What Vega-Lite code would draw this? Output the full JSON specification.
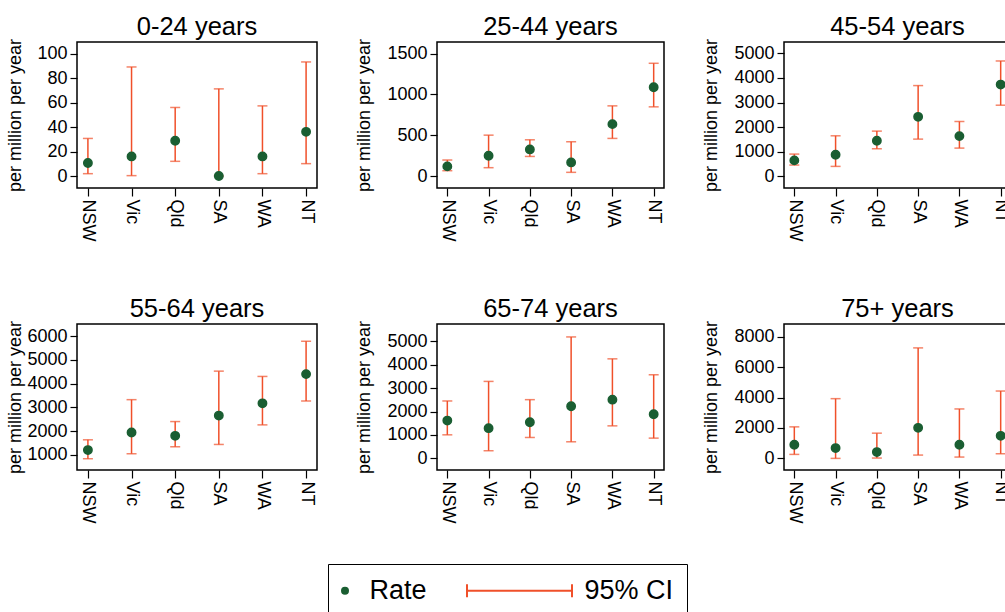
{
  "$schema": "https://vega.github.io/schema/vega-lite/v6.json",
  "padding": {"left": 5, "top": 14, "right": 0, "bottom": 0},
  "background": "white",
  "config": {
    "font": "Liberation Sans",
    "view": {"stroke": "#000", "strokeWidth": 1.5},
    "title": {"fontSize": 25.5, "fontWeight": "normal", "color": "#000", "baseline": "alphabetic", "offset": -2, "anchor": "middle"},
    "axis": {"labelFontSize": 18, "labelColor": "#000", "titleFontSize": 18, "titleFontWeight": "normal", "titleColor": "#000", "tickColor": "#000", "tickWidth": 1.2, "domain": false, "grid": false, "labelPadding": 3, "labelOverlap": false},
    "axisX": {"tickSize": 8, "labelAngle": 90},
    "axisY": {"tickSize": 7, "titlePadding": 3, "tickCount": 12},
    "legend": {"title": null, "orient": "none", "legendX": 251, "legendY": 522, "direction": "horizontal", "symbolSize": 36, "symbolOffset": -9.5, "symbolStrokeWidth": 2, "labelFontSize": 27, "labelColor": "#000", "labelOffset": 11, "columnPadding": 36, "padding": 13, "strokeColor": "#000"}
  },
  "datasets": {
    "rates": [
      {"age": "0-24 years", "state": "NSW", "rate": 10.6, "lower": 1.9, "upper": 30.7},
      {"age": "0-24 years", "state": "Vic", "rate": 16.0, "lower": 0.3, "upper": 89.1},
      {"age": "0-24 years", "state": "Qld", "rate": 28.8, "lower": 12.0, "upper": 56.0},
      {"age": "0-24 years", "state": "SA", "rate": 0, "lower": 0, "upper": 71.2},
      {"age": "0-24 years", "state": "WA", "rate": 16.0, "lower": 1.9, "upper": 57.3},
      {"age": "0-24 years", "state": "NT", "rate": 36.1, "lower": 10.1, "upper": 93.2},
      {"age": "25-44 years", "state": "NSW", "rate": 118, "lower": 65, "upper": 196},
      {"age": "25-44 years", "state": "Vic", "rate": 249, "lower": 102, "upper": 501},
      {"age": "25-44 years", "state": "Qld", "rate": 326, "lower": 240, "upper": 444},
      {"age": "25-44 years", "state": "SA", "rate": 167, "lower": 45, "upper": 420},
      {"age": "25-44 years", "state": "WA", "rate": 636, "lower": 461, "upper": 860},
      {"age": "25-44 years", "state": "NT", "rate": 1088, "lower": 848, "upper": 1382},
      {"age": "45-54 years", "state": "NSW", "rate": 649, "lower": 459, "upper": 905},
      {"age": "45-54 years", "state": "Vic", "rate": 878, "lower": 405, "upper": 1648},
      {"age": "45-54 years", "state": "Qld", "rate": 1446, "lower": 1121, "upper": 1838},
      {"age": "45-54 years", "state": "SA", "rate": 2418, "lower": 1513, "upper": 3688},
      {"age": "45-54 years", "state": "WA", "rate": 1635, "lower": 1148, "upper": 2229},
      {"age": "45-54 years", "state": "NT", "rate": 3729, "lower": 2891, "upper": 4688},
      {"age": "55-64 years", "state": "NSW", "rate": 1196, "lower": 832, "upper": 1630},
      {"age": "55-64 years", "state": "Vic", "rate": 1938, "lower": 1042, "upper": 3324},
      {"age": "55-64 years", "state": "Qld", "rate": 1798, "lower": 1336, "upper": 2400},
      {"age": "55-64 years", "state": "SA", "rate": 2652, "lower": 1434, "upper": 4528},
      {"age": "55-64 years", "state": "WA", "rate": 3170, "lower": 2260, "upper": 4304},
      {"age": "55-64 years", "state": "NT", "rate": 4402, "lower": 3268, "upper": 5788},
      {"age": "65-74 years", "state": "NSW", "rate": 1614, "lower": 1005, "upper": 2450},
      {"age": "65-74 years", "state": "Vic", "rate": 1289, "lower": 326, "upper": 3285},
      {"age": "65-74 years", "state": "Qld", "rate": 1543, "lower": 892, "upper": 2506},
      {"age": "65-74 years", "state": "SA", "rate": 2223, "lower": 708, "upper": 5183},
      {"age": "65-74 years", "state": "WA", "rate": 2506, "lower": 1388, "upper": 4248},
      {"age": "65-74 years", "state": "NT", "rate": 1883, "lower": 864, "upper": 3568},
      {"age": "75+ years", "state": "NSW", "rate": 894, "lower": 262, "upper": 2071},
      {"age": "75+ years", "state": "Vic", "rate": 676, "lower": 0, "upper": 3924},
      {"age": "75+ years", "state": "Qld", "rate": 414, "lower": 22, "upper": 1657},
      {"age": "75+ years", "state": "SA", "rate": 2006, "lower": 218, "upper": 7259},
      {"age": "75+ years", "state": "WA", "rate": 894, "lower": 87, "upper": 3248},
      {"age": "75+ years", "state": "NT", "rate": 1482, "lower": 305, "upper": 4425}
    ]
  },
  "data": {"name": "rates"},
  "columns": 3,
  "spacing": {"column": 36, "row": 54},
  "concat": [
    {
      "title": "0-24 years", "width": 240, "height": 146,
      "transform": [{"filter": "datum.age === '0-24 years'"}],
      "encoding": {"x": {"field": "state", "type": "nominal", "title": null, "sort": ["NSW", "Vic", "Qld", "SA", "WA", "NT"], "scale": {"type": "point", "padding": 0.25}}},
      "layer": [
        {"mark": {"type": "rule", "color": "#f0502a", "strokeWidth": 1.5},
         "encoding": {"y": {"field": "lower", "type": "quantitative", "title": "per million per year", "scale": {"domain": [-9.8, 109.5], "nice": false, "zero": false}, "axis": {"values": [0, 20, 40, 60, 80, 100], "format": "d", "minExtent": 50, "maxExtent": 50}}, "y2": {"field": "upper"}}},
        {"mark": {"type": "tick", "color": "#f0502a", "thickness": 1.5, "size": 10, "orient": "horizontal"}, "encoding": {"y": {"field": "lower", "type": "quantitative"}}},
        {"mark": {"type": "tick", "color": "#f0502a", "thickness": 1.5, "size": 10, "orient": "horizontal"}, "encoding": {"y": {"field": "upper", "type": "quantitative"}}},
        {"mark": {"type": "point", "filled": false, "fill": "#1a5e32", "fillOpacity": 1, "strokeWidth": 1.5, "size": 70, "opacity": 1},
         "encoding": {"y": {"field": "rate", "type": "quantitative"},
           "color": {"datum": "Rate", "type": "nominal", "scale": {"domain": ["Rate", "95% CI"], "range": ["#1a5e32", "#f0502a"]}},
           "shape": {"datum": "Rate", "type": "nominal", "scale": {"domain": ["Rate", "95% CI"], "range": ["circle", "M-31,-2.2L-31,2.2M-31,0L4,0M4,-2.2L4,2.2"]}}}}
      ]
    },
    {
      "title": "25-44 years", "width": 227, "height": 146,
      "transform": [{"filter": "datum.age === '25-44 years'"}],
      "encoding": {"x": {"field": "state", "type": "nominal", "title": null, "sort": ["NSW", "Vic", "Qld", "SA", "WA", "NT"], "scale": {"type": "point", "padding": 0.25}}},
      "layer": [
        {"mark": {"type": "rule", "color": "#f0502a", "strokeWidth": 1.5},
         "encoding": {"y": {"field": "lower", "type": "quantitative", "title": "per million per year", "scale": {"domain": [-147, 1643], "nice": false, "zero": false}, "axis": {"values": [0, 500, 1000, 1500], "format": "d", "minExtent": 61, "maxExtent": 61}}, "y2": {"field": "upper"}}},
        {"mark": {"type": "tick", "color": "#f0502a", "thickness": 1.5, "size": 10, "orient": "horizontal"}, "encoding": {"y": {"field": "lower", "type": "quantitative"}}},
        {"mark": {"type": "tick", "color": "#f0502a", "thickness": 1.5, "size": 10, "orient": "horizontal"}, "encoding": {"y": {"field": "upper", "type": "quantitative"}}},
        {"mark": {"type": "point", "filled": false, "fill": "#1a5e32", "fillOpacity": 1, "strokeWidth": 1.5, "size": 70, "opacity": 1},
         "encoding": {"y": {"field": "rate", "type": "quantitative"},
           "color": {"datum": "Rate", "type": "nominal", "scale": {"domain": ["Rate", "95% CI"], "range": ["#1a5e32", "#f0502a"]}},
           "shape": {"datum": "Rate", "type": "nominal", "scale": {"domain": ["Rate", "95% CI"], "range": ["circle", "M-31,-2.2L-31,2.2M-31,0L4,0M4,-2.2L4,2.2"]}}}}
      ]
    },
    {
      "title": "45-54 years", "width": 227, "height": 146,
      "transform": [{"filter": "datum.age === '45-54 years'"}],
      "encoding": {"x": {"field": "state", "type": "nominal", "title": null, "sort": ["NSW", "Vic", "Qld", "SA", "WA", "NT"], "scale": {"type": "point", "padding": 0.25}}},
      "layer": [
        {"mark": {"type": "rule", "color": "#f0502a", "strokeWidth": 1.5},
         "encoding": {"y": {"field": "lower", "type": "quantitative", "title": "per million per year", "scale": {"domain": [-473, 5459], "nice": false, "zero": false}, "axis": {"values": [0, 1000, 2000, 3000, 4000, 5000], "format": "d", "minExtent": 61, "maxExtent": 61}}, "y2": {"field": "upper"}}},
        {"mark": {"type": "tick", "color": "#f0502a", "thickness": 1.5, "size": 10, "orient": "horizontal"}, "encoding": {"y": {"field": "lower", "type": "quantitative"}}},
        {"mark": {"type": "tick", "color": "#f0502a", "thickness": 1.5, "size": 10, "orient": "horizontal"}, "encoding": {"y": {"field": "upper", "type": "quantitative"}}},
        {"mark": {"type": "point", "filled": false, "fill": "#1a5e32", "fillOpacity": 1, "strokeWidth": 1.5, "size": 70, "opacity": 1},
         "encoding": {"y": {"field": "rate", "type": "quantitative"},
           "color": {"datum": "Rate", "type": "nominal", "scale": {"domain": ["Rate", "95% CI"], "range": ["#1a5e32", "#f0502a"]}},
           "shape": {"datum": "Rate", "type": "nominal", "scale": {"domain": ["Rate", "95% CI"], "range": ["circle", "M-31,-2.2L-31,2.2M-31,0L4,0M4,-2.2L4,2.2"]}}}}
      ]
    },
    {
      "title": "55-64 years", "width": 240, "height": 146,
      "transform": [{"filter": "datum.age === '55-64 years'"}],
      "encoding": {"x": {"field": "state", "type": "nominal", "title": null, "sort": ["NSW", "Vic", "Qld", "SA", "WA", "NT"], "scale": {"type": "point", "padding": 0.25}}},
      "layer": [
        {"mark": {"type": "rule", "color": "#f0502a", "strokeWidth": 1.5},
         "encoding": {"y": {"field": "lower", "type": "quantitative", "title": "per million per year", "scale": {"domain": [356, 6517], "nice": false, "zero": false}, "axis": {"values": [1000, 2000, 3000, 4000, 5000, 6000], "format": "d", "minExtent": 50, "maxExtent": 50}}, "y2": {"field": "upper"}}},
        {"mark": {"type": "tick", "color": "#f0502a", "thickness": 1.5, "size": 10, "orient": "horizontal"}, "encoding": {"y": {"field": "lower", "type": "quantitative"}}},
        {"mark": {"type": "tick", "color": "#f0502a", "thickness": 1.5, "size": 10, "orient": "horizontal"}, "encoding": {"y": {"field": "upper", "type": "quantitative"}}},
        {"mark": {"type": "point", "filled": false, "fill": "#1a5e32", "fillOpacity": 1, "strokeWidth": 1.5, "size": 70, "opacity": 1},
         "encoding": {"y": {"field": "rate", "type": "quantitative"},
           "color": {"datum": "Rate", "type": "nominal", "scale": {"domain": ["Rate", "95% CI"], "range": ["#1a5e32", "#f0502a"]}},
           "shape": {"datum": "Rate", "type": "nominal", "scale": {"domain": ["Rate", "95% CI"], "range": ["circle", "M-31,-2.2L-31,2.2M-31,0L4,0M4,-2.2L4,2.2"]}}}}
      ]
    },
    {
      "title": "65-74 years", "width": 227, "height": 146,
      "transform": [{"filter": "datum.age === '65-74 years'"}],
      "encoding": {"x": {"field": "state", "type": "nominal", "title": null, "sort": ["NSW", "Vic", "Qld", "SA", "WA", "NT"], "scale": {"type": "point", "padding": 0.25}}},
      "layer": [
        {"mark": {"type": "rule", "color": "#f0502a", "strokeWidth": 1.5},
         "encoding": {"y": {"field": "lower", "type": "quantitative", "title": "per million per year", "scale": {"domain": [-496, 5735], "nice": false, "zero": false}, "axis": {"values": [0, 1000, 2000, 3000, 4000, 5000], "format": "d", "minExtent": 61, "maxExtent": 61}}, "y2": {"field": "upper"}}},
        {"mark": {"type": "tick", "color": "#f0502a", "thickness": 1.5, "size": 10, "orient": "horizontal"}, "encoding": {"y": {"field": "lower", "type": "quantitative"}}},
        {"mark": {"type": "tick", "color": "#f0502a", "thickness": 1.5, "size": 10, "orient": "horizontal"}, "encoding": {"y": {"field": "upper", "type": "quantitative"}}},
        {"mark": {"type": "point", "filled": false, "fill": "#1a5e32", "fillOpacity": 1, "strokeWidth": 1.5, "size": 70, "opacity": 1},
         "encoding": {"y": {"field": "rate", "type": "quantitative"},
           "color": {"datum": "Rate", "type": "nominal", "scale": {"domain": ["Rate", "95% CI"], "range": ["#1a5e32", "#f0502a"]}},
           "shape": {"datum": "Rate", "type": "nominal", "scale": {"domain": ["Rate", "95% CI"], "range": ["circle", "M-31,-2.2L-31,2.2M-31,0L4,0M4,-2.2L4,2.2"]}}}}
      ]
    },
    {
      "title": "75+ years", "width": 227, "height": 146,
      "transform": [{"filter": "datum.age === '75+ years'"}],
      "encoding": {"x": {"field": "state", "type": "nominal", "title": null, "sort": ["NSW", "Vic", "Qld", "SA", "WA", "NT"], "scale": {"type": "point", "padding": 0.25}}},
      "layer": [
        {"mark": {"type": "rule", "color": "#f0502a", "strokeWidth": 1.5},
         "encoding": {"y": {"field": "lower", "type": "quantitative", "title": "per million per year", "scale": {"domain": [-763, 8829], "nice": false, "zero": false}, "axis": {"values": [0, 2000, 4000, 6000, 8000], "format": "d", "minExtent": 61, "maxExtent": 61}}, "y2": {"field": "upper"}}},
        {"mark": {"type": "tick", "color": "#f0502a", "thickness": 1.5, "size": 10, "orient": "horizontal"}, "encoding": {"y": {"field": "lower", "type": "quantitative"}}},
        {"mark": {"type": "tick", "color": "#f0502a", "thickness": 1.5, "size": 10, "orient": "horizontal"}, "encoding": {"y": {"field": "upper", "type": "quantitative"}}},
        {"mark": {"type": "point", "filled": false, "fill": "#1a5e32", "fillOpacity": 1, "strokeWidth": 1.5, "size": 70, "opacity": 1},
         "encoding": {"y": {"field": "rate", "type": "quantitative"},
           "color": {"datum": "Rate", "type": "nominal", "scale": {"domain": ["Rate", "95% CI"], "range": ["#1a5e32", "#f0502a"]}},
           "shape": {"datum": "Rate", "type": "nominal", "scale": {"domain": ["Rate", "95% CI"], "range": ["circle", "M-31,-2.2L-31,2.2M-31,0L4,0M4,-2.2L4,2.2"]}}}}
      ]
    }
  ]
}
